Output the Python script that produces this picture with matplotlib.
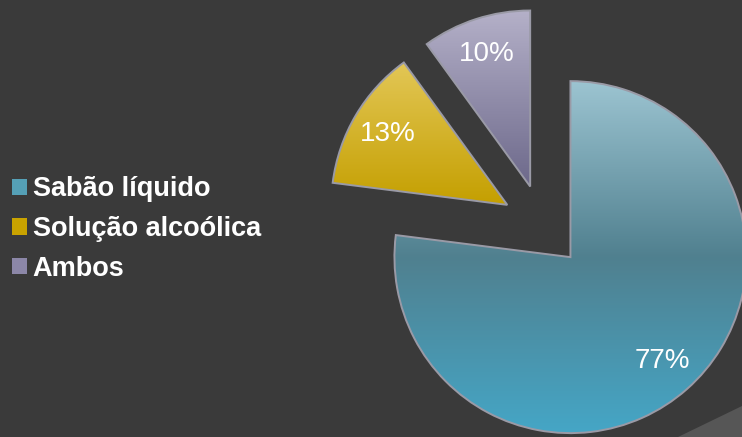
import numpy as np
import matplotlib.pyplot as plt
import matplotlib.patches as mpatches
from matplotlib.colors import LinearSegmentedColormap

labels = ["Sabão líquido", "Solução alcoólica", "Ambos"]
values = [77, 13, 10]

# top / middle / bottom shades for the gradient fill of each slice
shades = [
    ["#9cc4d1", "#50808f", "#45a6c6"],
    ["#ead06a", "#c49f00", "#f2cc05"],
    ["#b4b0c8", "#6c688a", "#7c77a0"],
]
legend_colors = ["#55a0b6", "#c9a300", "#8c87a8"]

bg = "#3a3a3a"

fig = plt.figure(figsize=(7.42, 4.37), dpi=100)
fig.patch.set_facecolor(bg)
ax = fig.add_axes([0, 0, 1, 1])
ax.set_facecolor(bg)

# lighter band in the lower right corner
ax.add_patch(mpatches.Polygon([(678, 0), (742, 31), (742, 0)],
                              closed=True, color="#565656", lw=0, zorder=0))

cx, cy, r = 543, 211, 176
wedges, texts, autotexts = ax.pie(
    values, startangle=90, counterclock=False, radius=r, center=(cx, cy),
    explode=[41.5] * 3, autopct="%d%%", pctdistance=0.79,
    colors=legend_colors,
    wedgeprops=dict(edgecolor="#9a9aa6", linewidth=1.4),
    textprops=dict(color="white", fontsize=20, family="Liberation Sans"))

leg = ax.legend(wedges, labels, loc="center left",
                bbox_to_anchor=(12, 208), bbox_transform=ax.transData,
                frameon=False, borderpad=0, borderaxespad=0,
                handlelength=0.56, handleheight=0.56, handletextpad=0.2,
                labelspacing=0.5,
                prop=dict(weight="bold", size=19.5, family="Liberation Sans"))
for t in leg.get_texts():
    t.set_color("white")
for h in leg.legend_handles:
    h.set_edgecolor("none")

# gradient fill clipped to each slice
for w, sh in zip(wedges, shades):
    x0, y0 = w.center
    cmap = LinearSegmentedColormap.from_list("g", sh)
    grad = np.linspace(0, 1, 256).reshape(-1, 1)
    im = ax.imshow(grad, cmap=cmap, aspect="auto", origin="upper",
                   extent=(x0 - r, x0 + r, y0 - r, y0 + r), zorder=2)
    im.set_clip_path(w)
    w.set_facecolor("none")
    w.set_zorder(3)

for t in autotexts:
    t.set_zorder(4)

ax.set_xlim(0, 742)
ax.set_ylim(0, 437)
ax.set_aspect("equal")
ax.axis("off")

plt.savefig("out.png", dpi=100, facecolor=bg)
